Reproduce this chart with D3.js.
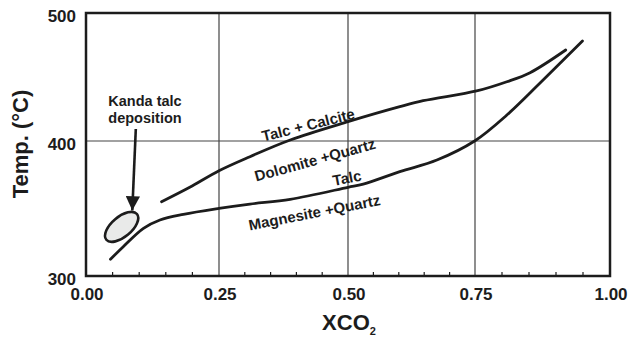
<!DOCTYPE html>
<html>
<head>
<meta charset="utf-8">
<script src="https://cdn.jsdelivr.net/npm/d3@7"></script>
<style>
  body { margin: 0; background: #fff; }
  svg { display: block; font-family: "Liberation Sans", Arial, Helvetica, sans-serif; }
</style>
</head>
<body>
<svg width="630" height="337"></svg>
<script>
// ticks
const xTicks = [0, 0.25, 0.5, 0.75, 1];
const xTickLabels = ["0.00", "0.25", "0.50", "0.75", "1.00"];
const xMinor = [0.05, 0.1, 0.15, 0.2, 0.3, 0.35, 0.4, 0.45, 0.55, 0.6, 0.65, 0.7, 0.8, 0.85, 0.9, 0.95];
const yTicks = [300, 400, 500];

// upper reaction curve: Talc + Calcite / Dolomite + Quartz
const upperX = [0.142, 0.195, 0.25, 0.31, 0.388, 0.5, 0.602, 0.648, 0.753, 0.809, 0.852, 0.918];
const upperT = [355.0, 365.7, 378.0, 388.4, 400.8, 415.1, 426.8, 431.5, 439.1, 446.3, 453.4, 471.1];

// lower reaction curve: Talc / Magnesite + Quartz
const lowerX = [0.046, 0.07, 0.108, 0.139, 0.183, 0.25, 0.31, 0.388, 0.5, 0.53, 0.602, 0.675, 0.75, 0.809, 0.87, 0.949];
const lowerT = [312.4, 321.7, 335.3, 341.5, 345.7, 350.1, 353.3, 356.8, 365.7, 368.1, 377.3, 385.9, 400.2, 420.3, 445.1, 478.1];

// field labels
const fieldNames = ["Talc + Calcite", "Dolomite +Quartz", "Talc", "Magnesite +Quartz"];
const fieldX = [0.423, 0.436, 0.498, 0.435];
const fieldT = [412.5, 386, 372.6, 347];
const fieldAngle = [-14, -15.5, -11, -11];

// Kanda talc deposition field
const kandaX = 0.067, kandaT = 336.4;

const svg = d3.select("svg");
const mLeft = 86, mRight = 610, mTop = 13, mBottom = 276;

const x = d3.scaleLinear().domain(xTicks).range([mLeft, 219, 348, 475, mRight]);
const y = d3.scaleLinear().domain(yTicks).range([mBottom, 141, mTop]);

const ink = "#1c1c1c";

// grid
svg.append("g")
  .selectAll("line")
  .data(xTicks.slice(1, -1))
  .join("line")
    .attr("x1", d => x(d)).attr("x2", d => x(d))
    .attr("y1", mTop).attr("y2", mBottom)
    .attr("stroke", "#444").attr("stroke-width", 1.2);
svg.append("g")
  .selectAll("line")
  .data(yTicks.slice(1, -1))
  .join("line")
    .attr("x1", mLeft).attr("x2", mRight)
    .attr("y1", d => y(d)).attr("y2", d => y(d))
    .attr("stroke", "#444").attr("stroke-width", 1.2);

// minor ticks on the x axis
svg.append("g")
  .selectAll("line")
  .data(xMinor)
  .join("line")
    .attr("x1", d => x(d)).attr("x2", d => x(d))
    .attr("y1", mBottom).attr("y2", mBottom - 4)
    .attr("stroke", ink).attr("stroke-width", 1.2);

// frame
svg.append("rect")
  .attr("x", mLeft).attr("y", mTop)
  .attr("width", mRight - mLeft).attr("height", mBottom - mTop)
  .attr("fill", "none").attr("stroke", ink).attr("stroke-width", 2.5);

// tick labels
svg.append("g")
  .selectAll("text")
  .data(xTicks)
  .join("text")
    .attr("x", d => x(d) + 1)
    .attr("y", 300)
    .attr("text-anchor", "middle")
    .attr("font-size", 17).attr("font-weight", "bold").attr("fill", ink)
    .text((d, i) => xTickLabels[i]);
svg.append("g")
  .selectAll("text")
  .data(yTicks)
  .join("text")
    .attr("x", 76)
    .attr("y", d => y(d) + 3)
    .attr("dy", "0.36em")
    .attr("text-anchor", "end")
    .attr("font-size", 17).attr("font-weight", "bold").attr("fill", ink)
    .text(d => d);

// axis titles
const xt = svg.append("text")
  .attr("x", 349).attr("y", 330)
  .attr("text-anchor", "middle")
  .attr("font-size", 22).attr("font-weight", "bold").attr("fill", ink);
xt.append("tspan").text("XCO");
xt.append("tspan").attr("font-size", 11).attr("dy", 5).text("2");

svg.append("text")
  .attr("transform", "translate(28,144) rotate(-90)")
  .attr("text-anchor", "middle")
  .attr("font-size", 22).attr("font-weight", "bold").attr("fill", ink)
  .text("Temp. (°C)");

// reaction curves
const line = d3.line()
  .x(d => x(d[0])).y(d => y(d[1]))
  .curve(d3.curveCatmullRom);

svg.append("path")
  .datum(d3.zip(upperX, upperT))
  .attr("d", line)
  .attr("fill", "none").attr("stroke", ink).attr("stroke-width", 2.8)
  .attr("stroke-linecap", "round");
svg.append("path")
  .datum(d3.zip(lowerX, lowerT))
  .attr("d", line)
  .attr("fill", "none").attr("stroke", ink).attr("stroke-width", 2.8)
  .attr("stroke-linecap", "round");

// field labels
svg.append("g")
  .selectAll("text")
  .data(fieldNames)
  .join("text")
    .attr("transform", (d, i) => `translate(${x(fieldX[i])},${y(fieldT[i])}) rotate(${fieldAngle[i]})`)
    .attr("text-anchor", "middle")
    .attr("dy", "0.35em")
    .attr("font-size", 15).attr("font-weight", "bold").attr("fill", ink)
    .text(d => d);

// Kanda talc deposition ellipse
svg.append("ellipse")
  .attr("transform", `translate(${x(kandaX)},${y(kandaT)}) rotate(-40)`)
  .attr("rx", 20).attr("ry", 10)
  .attr("fill", "#e9eae9").attr("stroke", ink).attr("stroke-width", 2.6);

// annotation
const ann = svg.append("text")
  .attr("x", 145).attr("y", 106)
  .attr("text-anchor", "middle")
  .attr("font-size", 14.5).attr("font-weight", "bold").attr("fill", ink);
ann.append("tspan").attr("x", 145).text("Kanda talc");
ann.append("tspan").attr("x", 145).attr("dy", 17).text("deposition");

svg.append("defs").append("marker")
  .attr("id", "head")
  .attr("viewBox", "0 0 10 10")
  .attr("refX", 10).attr("refY", 5)
  .attr("markerWidth", 6).attr("markerHeight", 5.5)
  .attr("markerUnits", "strokeWidth")
  .attr("orient", "auto")
  .append("path")
    .attr("d", "M0,0L10,5L0,10Z")
    .attr("fill", ink);

svg.append("line")
  .attr("x1", 135.8).attr("y1", 129)
  .attr("x2", x(0.087)).attr("y2", y(348.5))
  .attr("stroke", ink).attr("stroke-width", 2.6)
  .attr("marker-end", "url(#head)");
</script>
</body>
</html>
